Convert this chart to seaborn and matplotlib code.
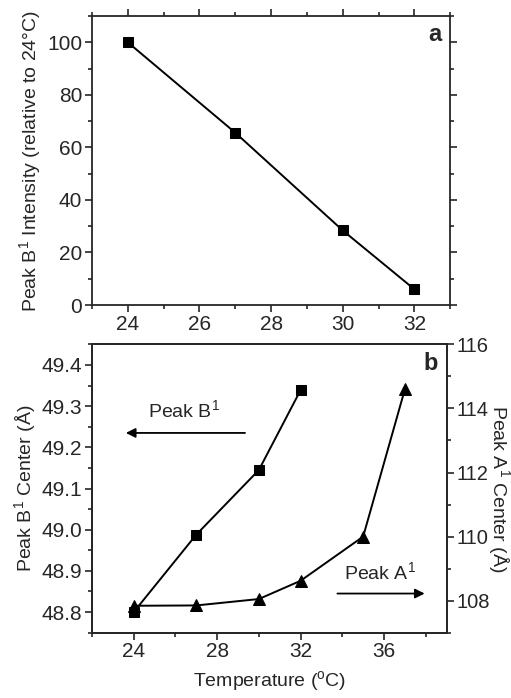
import numpy as np
import pandas as pd
import matplotlib
matplotlib.use("Agg")
import matplotlib.pyplot as plt
from matplotlib.ticker import MultipleLocator
import seaborn as sns

sns.set_style("ticks")
plt.rcParams['font.family'] = ['Liberation Sans', 'DejaVu Sans']
plt.rcParams['mathtext.fontset'] = 'custom'
plt.rcParams['mathtext.rm'] = 'Liberation Sans'
plt.rcParams['axes.linewidth'] = 1.3

# ---- data ----
temp_a = [24, 27, 30, 32]
intensity_b1 = [100, 65.6, 28.4, 6.0]

temp_b1 = [24, 27, 30, 32]
center_b1 = [48.80, 48.988, 49.145, 49.339]

temp_a1 = [24, 27, 30, 32, 35, 37]
center_a1 = [107.84, 107.85, 108.05, 108.62, 110.0, 114.6]

df_a = pd.DataFrame({'T': temp_a, 'I': intensity_b1})
df_b1 = pd.DataFrame({'T': temp_b1, 'C': center_b1})
df_a1 = pd.DataFrame({'T': temp_a1, 'C': center_a1})

fig = plt.figure(figsize=(5.11, 6.98), dpi=100)
TS = 15
LS = 14

# ---- panel a ----
ax1 = fig.add_axes([0.180, 0.563, 0.701, 0.414])
sns.lineplot(data=df_a, x='T', y='I', marker='s', markersize=7, color='black',
             linewidth=1.4, markeredgecolor='black', ax=ax1)
ax1.set_xlim(23, 33)
ax1.set_ylim(0, 110)
ax1.xaxis.set_major_locator(MultipleLocator(2))
ax1.xaxis.set_minor_locator(MultipleLocator(1))
ax1.yaxis.set_major_locator(MultipleLocator(20))
ax1.yaxis.set_minor_locator(MultipleLocator(10))
ax1.tick_params(which='both', direction='out', top=True, right=True,
                labelsize=TS, width=1.2, pad=2)
ax1.tick_params(which='major', length=5)
ax1.tick_params(which='minor', length=3)
ax1.set_xlabel('')
ax1.set_ylabel('Peak B$^1$ Intensity (relative to 24°C)', fontsize=LS, labelpad=2)
ax1.text(0.975, 0.975, 'a', transform=ax1.transAxes, ha='right', va='top',
         fontsize=17, fontweight='bold')

# ---- panel b ----
ax2 = fig.add_axes([0.180, 0.0936, 0.694, 0.413])
sns.lineplot(data=df_b1, x='T', y='C', marker='s', markersize=7, color='black',
             linewidth=1.4, markeredgecolor='black', ax=ax2)
ax2.set_xlim(22, 39)
ax2.set_ylim(48.75, 49.45)
ax2.xaxis.set_major_locator(MultipleLocator(4))
ax2.xaxis.set_minor_locator(MultipleLocator(2))
ax2.yaxis.set_major_locator(MultipleLocator(0.1))
ax2.yaxis.set_minor_locator(MultipleLocator(0.05))
ax2.yaxis.set_major_formatter(matplotlib.ticker.FormatStrFormatter('%.1f'))
ax2.tick_params(which='both', direction='out', labelsize=TS, width=1.2, pad=2)
ax2.tick_params(which='major', length=5)
ax2.tick_params(which='minor', length=3)
ax2.set_xlabel('Temperature ($^{\\rm o}$C)', fontsize=LS, labelpad=6)
ax2.set_ylabel('Peak B$^1$ Center (Å)', fontsize=LS, labelpad=2)
ax2.text(0.975, 0.975, 'b', transform=ax2.transAxes, ha='right', va='top',
         fontsize=17, fontweight='bold')

# right axis: peak A1
ax3 = ax2.twinx()
sns.lineplot(data=df_a1, x='T', y='C', marker='^', markersize=8, color='black',
             linewidth=1.4, markeredgecolor='black', ax=ax3)
ax3.set_ylim(107, 116)
ax3.yaxis.set_major_locator(MultipleLocator(2))
ax3.yaxis.set_minor_locator(MultipleLocator(1))
ax3.tick_params(which='both', direction='out', labelsize=14.5, width=1.2, pad=2)
ax3.tick_params(which='major', length=5)
ax3.tick_params(which='minor', length=3)
ax3.set_ylabel('Peak A$^1$ Center (Å)', fontsize=LS, rotation=-90, labelpad=16)
for sp in ax3.spines.values():
    sp.set_linewidth(1.3)

# arrows + labels
ax2.annotate('', xy=(23.49, 49.235), xytext=(29.47, 49.235),
             arrowprops=dict(arrowstyle='-|>', color='black', lw=1.3,
                             mutation_scale=14))
ax2.text(26.4, 49.262, 'Peak B$^1$', fontsize=LS, ha='center', va='bottom')
ax2.annotate('', xy=(38.08, 48.845), xytext=(33.63, 48.845),
             arrowprops=dict(arrowstyle='-|>', color='black', lw=1.3,
                             mutation_scale=14))
ax2.text(35.8, 48.868, 'Peak A$^1$', fontsize=LS, ha='center', va='bottom')

fig.savefig('out.png', dpi=100)
